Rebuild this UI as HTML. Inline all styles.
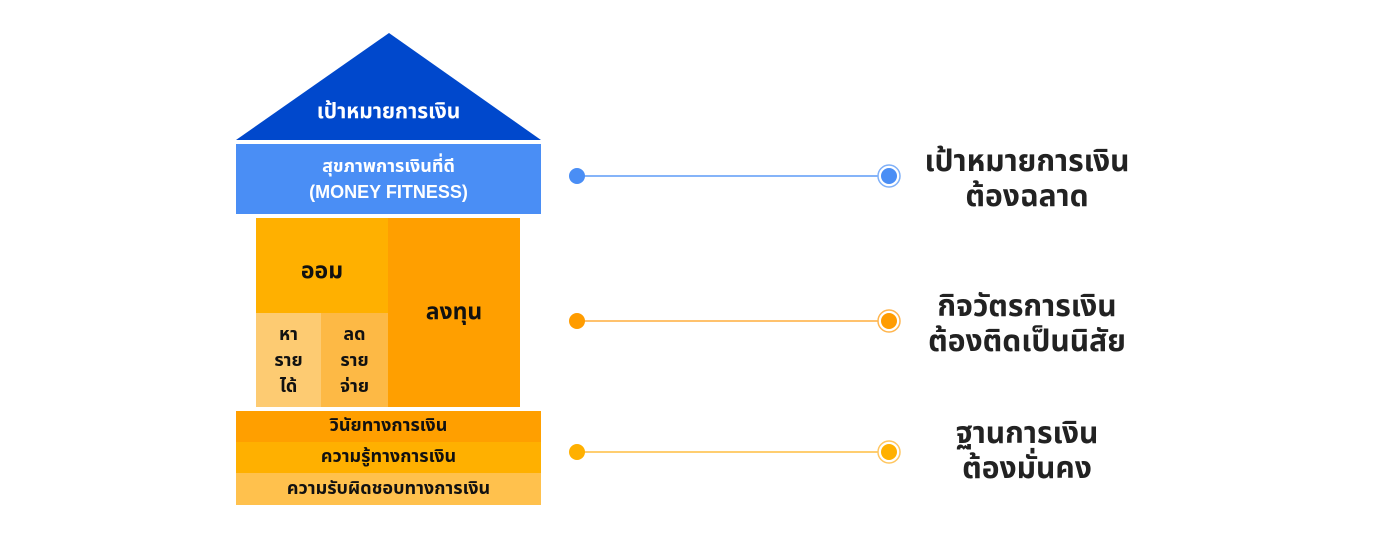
<!DOCTYPE html>
<html><head><meta charset="utf-8"><style>
body{margin:0;width:1400px;height:560px;background:#fff;position:relative;overflow:hidden;font-family:"Liberation Sans","Noto Sans Thai","Noto Sans CJK SC",sans-serif;font-weight:bold}
.a{position:absolute;display:flex;align-items:center;justify-content:center;text-align:center;box-sizing:border-box}
.r{position:absolute;width:300px;left:877px;text-align:center;font-size:30px;color:#222;line-height:35px}
</style></head><body>
<svg width="1400" height="560" style="position:absolute;left:0;top:0">
<polygon points="389,33 236,140 541,140" fill="#0048cc"/>
<g stroke-width="1.5">
<line x1="577" y1="176" x2="889" y2="176" stroke="#5d9bf7"/>
<line x1="577" y1="321" x2="889" y2="321" stroke="#ffae3d"/>
<line x1="577" y1="452" x2="889" y2="452" stroke="#ffbd40"/>
</g>
<circle cx="577" cy="176" r="8" fill="#4a8ef5"/><circle cx="889" cy="176" r="11" fill="#fff" stroke="#7fb0f8" stroke-width="1.5"/><circle cx="889" cy="176" r="8" fill="#4a8ef5"/>
<circle cx="577" cy="321" r="8" fill="#ff9c00"/><circle cx="889" cy="321" r="11" fill="#fff" stroke="#ffb54d" stroke-width="1.5"/><circle cx="889" cy="321" r="8" fill="#ff9c00"/>
<circle cx="577" cy="452" r="8" fill="#ffb000"/><circle cx="889" cy="452" r="11" fill="#fff" stroke="#ffc660" stroke-width="1.5"/><circle cx="889" cy="452" r="8" fill="#ffb000"/>
</svg>
<div class="a" style="left:236px;top:92px;width:305px;height:40px;color:#fff;font-size:21px">เป้าหมายการเงิน</div>
<div class="a" style="left:236px;top:144px;width:305px;height:70px;background:#4a8ef5;color:#fff;font-size:18px;line-height:26px">สุขภาพการเงินที่ดี<br>(MONEY FITNESS)</div>
<div class="a" style="left:256px;top:218px;width:132px;height:100px;background:#ffb000"></div>
<div class="a" style="left:256px;top:252px;width:132px;height:40px;font-size:23px;color:#111">ออม</div>
<div class="a" style="left:388px;top:218px;width:132px;height:189px;background:#ff9f00;font-size:23px;color:#111">ลงทุน</div>
<div class="a" style="left:256px;top:313px;width:65px;height:94px;background:#fdcb72;font-size:18px;line-height:26px;color:#111">หา<br>ราย<br>ได้</div>
<div class="a" style="left:321px;top:313px;width:67px;height:94px;background:#fdb945;font-size:18px;line-height:26px;color:#111">ลด<br>ราย<br>จ่าย</div>
<div class="a" style="left:236px;top:411px;width:305px;height:31px;background:#ff9f00;font-size:18px;color:#111">วินัยทางการเงิน</div>
<div class="a" style="left:236px;top:442px;width:305px;height:31px;background:#ffb000;font-size:18px;color:#111">ความรู้ทางการเงิน</div>
<div class="a" style="left:236px;top:473px;width:305px;height:32px;background:#ffc14d;font-size:18px;color:#111">ความรับผิดชอบทางการเงิน</div>
<div class="r" style="top:144px">เป้าหมายการเงิน<br>ต้องฉลาด</div>
<div class="r" style="top:289px">กิจวัตรการเงิน<br>ต้องติดเป็นนิสัย</div>
<div class="r" style="top:416px">ฐานการเงิน<br>ต้องมั่นคง</div>
</body></html>
